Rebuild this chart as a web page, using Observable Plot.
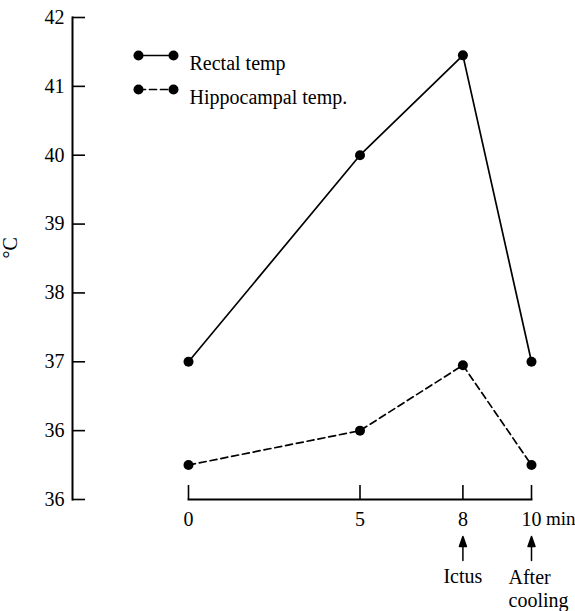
<!DOCTYPE html>
<html>
<head>
<meta charset="utf-8">
<script src="https://cdn.jsdelivr.net/npm/d3@7"></script>
<script src="https://cdn.jsdelivr.net/npm/@observablehq/plot@0.6"></script>
<style>
  html, body { margin: 0; padding: 0; background: white; overflow: hidden; }
</style>
</head>
<body>
<div id="chart"></div>
<script>
// ---- data ----
const minutes = [0, 5, 8, 10];
const rectal = [37.0, 40.0, 41.45, 37.0];
const hippocampal = [35.5, 36.0, 36.95, 35.5];
const seriesNames = ["Rectal temp", "Hippocampal temp."];
const xTicks = [0, 5, 8, 10];
const yTicks = [42, 41, 40, 39, 38, 37, 36, 35];
const yTickLabels = ["42", "41", "40", "39", "38", "37", "36", "36"];
const yUnit = "°C";
const xUnit = "min";
const eventMinutes = [8, 10];
const eventLabels = ["Ictus", "After\ncooling"];

// ---- derived tables ----
const rectalData = minutes.map((m, i) => ({minute: m, temp: rectal[i]}));
const hippoData = minutes.map((m, i) => ({minute: m, temp: hippocampal[i]}));
const events = eventMinutes.map((m, i) => ({minute: m, label: eventLabels[i]}));
const dashes = [null, "7,4"];

const lineShape = {draw(ctx, l) { ctx.moveTo(0, 0); ctx.lineTo(0, -l); }};
const filledArrow = {draw(ctx, l, r) {
  ctx.moveTo(0, 0); ctx.lineTo(0, -l + 8);
  ctx.moveTo(-r, -l + 10); ctx.lineTo(0, -l); ctx.lineTo(r, -l + 10); ctx.closePath();
}};

const legendMarks = seriesNames.flatMap((name, i) => {
  const dy = 38 + 34 * i;
  return [
    Plot.vector([name], {frameAnchor: "top-left", dx: -50, dy, rotate: 90, length: 35, anchor: "start",
      shape: lineShape, stroke: "black", strokeWidth: 1.7, strokeDasharray: dashes[i]}),
    Plot.dot([name], {frameAnchor: "top-left", dx: -50, dy, r: 5, fill: "black"}),
    Plot.dot([name], {frameAnchor: "top-left", dx: -15, dy, r: 5, fill: "black"}),
    Plot.text([name], {frameAnchor: "top-left", dx: 1, dy, text: d => d, textAnchor: "start", fontSize: 20})
  ];
});

const chart = Plot.plot({
  width: 575,
  height: 611,
  marginLeft: 188,
  marginRight: 44,
  marginTop: 17,
  marginBottom: 112,
  style: {fontFamily: "'Liberation Serif', 'Times New Roman', serif", fontSize: "20px", background: "white", color: "black", overflow: "visible"},
  x: {domain: [0, 10], label: null},
  y: {domain: [35, 42], label: null},
  marks: [
    Plot.frame({anchor: "left", dx: -116, strokeWidth: 2}),
    Plot.frame({anchor: "bottom", strokeWidth: 2}),
    Plot.axisY(yTicks, {tickSize: -13, tickPadding: 21, dx: -116, strokeWidth: 1.6,
      tickFormat: d => yTickLabels[yTicks.indexOf(d)], label: null, fontSize: 20}),
    Plot.axisX(xTicks, {tickSize: -14, tickPadding: 26, strokeWidth: 1.6,
      tickFormat: d => String(d), label: null, fontSize: 20}),
    Plot.text([xUnit], {x: 10, frameAnchor: "bottom", dy: 12, dx: 14.5, lineAnchor: "top", textAnchor: "start", text: d => d, fontSize: 19}),
    Plot.text([yUnit], {frameAnchor: "left", dx: -178, rotate: -90, text: d => d, fontSize: 20}),
    Plot.line(rectalData, {x: "minute", y: "temp", stroke: "black", strokeWidth: 1.7}),
    Plot.line(hippoData, {x: "minute", y: "temp", stroke: "black", strokeWidth: 1.7, strokeDasharray: "7,4"}),
    Plot.dot(rectalData, {x: "minute", y: "temp", r: 5, fill: "black"}),
    Plot.dot(hippoData, {x: "minute", y: "temp", r: 5, fill: "black"}),
    Plot.vector(events, {x: "minute", frameAnchor: "bottom", dy: 61, length: 24, anchor: "start",
      shape: filledArrow, r: 3.5, fill: "black", stroke: "black", strokeWidth: 1.5}),
    Plot.text(events, {filter: d => d.minute === 8, x: "minute", text: "label", frameAnchor: "bottom", dy: 69,
      lineAnchor: "top", textAnchor: "middle", fontSize: 20}),
    Plot.text(events, {filter: d => d.minute === 10, x: "minute", text: "label", frameAnchor: "bottom", dy: 68,
      lineAnchor: "top", textAnchor: "start", dx: -23, lineHeight: 1.15, fontSize: 20}),
    ...legendMarks
  ]
});
document.getElementById("chart").appendChild(chart);
</script>
</body>
</html>
